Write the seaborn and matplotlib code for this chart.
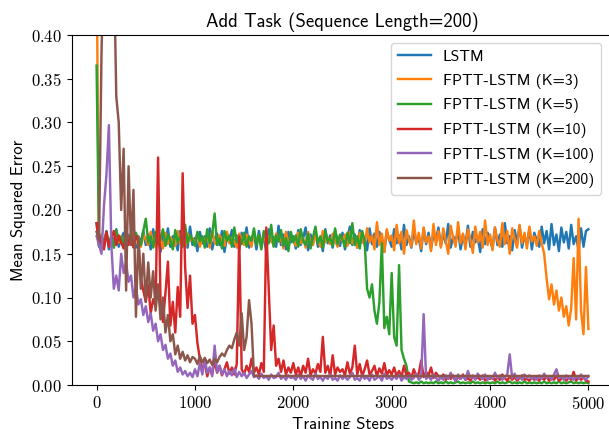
import numpy as np
import pandas as pd
import matplotlib
matplotlib.use("Agg")
import matplotlib.pyplot as plt
import seaborn as sns
from matplotlib.ticker import FuncFormatter, MultipleLocator

# ---------------- data ----------------
steps = np.arange(0, 5001, 25)

labels = ["LSTM", "FPTT-LSTM (K=3)", "FPTT-LSTM (K=5)", "FPTT-LSTM (K=10)",
          "FPTT-LSTM (K=100)", "FPTT-LSTM (K=200)"]

lstm = [
    0.185, 0.158, 0.172, 0.160, 0.176, 0.155, 0.170, 0.163, 0.178, 0.158, 0.168, 0.174, 0.156, 0.171, 0.162, 0.180, 0.157, 0.169, 0.164, 0.176,
    0.160, 0.172, 0.155, 0.178, 0.163, 0.168, 0.152, 0.174, 0.161, 0.179, 0.158, 0.170, 0.165, 0.154, 0.176, 0.162, 0.171, 0.157, 0.181, 0.160,
    0.168, 0.153, 0.175, 0.162, 0.170, 0.158, 0.179, 0.155, 0.167, 0.173, 0.160, 0.176, 0.152, 0.169, 0.163, 0.177, 0.158, 0.171, 0.154, 0.174,
    0.162, 0.180, 0.157, 0.168, 0.173, 0.155, 0.176, 0.161, 0.170, 0.152, 0.178, 0.164, 0.169, 0.158, 0.182, 0.160, 0.172, 0.155, 0.175, 0.163,
    0.170, 0.156, 0.177, 0.160, 0.168, 0.180, 0.154, 0.172, 0.163, 0.175, 0.158, 0.169, 0.153, 0.178, 0.162, 0.171, 0.157, 0.176, 0.165, 0.159,
    0.174, 0.155, 0.168, 0.181, 0.160, 0.172, 0.157, 0.177, 0.163, 0.169, 0.154, 0.179, 0.161, 0.173, 0.158, 0.175, 0.164, 0.152, 0.176, 0.166,
    0.158, 0.178, 0.162, 0.171, 0.155, 0.183, 0.160, 0.170, 0.157, 0.176, 0.163, 0.168, 0.153, 0.179, 0.161, 0.174, 0.156, 0.172, 0.165, 0.180,
    0.159, 0.173, 0.162, 0.184, 0.157, 0.170, 0.164, 0.177, 0.155, 0.171, 0.160, 0.182, 0.158, 0.175, 0.163, 0.169, 0.152, 0.178, 0.161, 0.174,
    0.166, 0.156, 0.180, 0.160, 0.172, 0.158, 0.185, 0.162, 0.170, 0.154, 0.177, 0.163, 0.182, 0.157, 0.171, 0.160, 0.179, 0.155, 0.174, 0.165,
    0.158, 0.181, 0.162, 0.176, 0.155, 0.184, 0.160, 0.172, 0.153, 0.180, 0.163, 0.175, 0.156, 0.183, 0.161, 0.170, 0.154, 0.179, 0.158, 0.176,
    0.178,
]

fptt_k3 = [
    0.480, 0.165, 0.171, 0.158, 0.174, 0.162, 0.168, 0.157, 0.175, 0.163, 0.170, 0.159, 0.173, 0.165, 0.160, 0.176, 0.162, 0.169, 0.158, 0.172,
    0.166, 0.160, 0.175, 0.163, 0.158, 0.171, 0.167, 0.156, 0.174, 0.161, 0.169, 0.164, 0.159, 0.176, 0.162, 0.170, 0.157, 0.173, 0.165, 0.168,
    0.161, 0.174, 0.158, 0.169, 0.165, 0.172, 0.157, 0.176, 0.163, 0.160, 0.171, 0.166, 0.159, 0.175, 0.162, 0.168, 0.164, 0.157, 0.173, 0.167,
    0.160, 0.172, 0.165, 0.158, 0.176, 0.163, 0.169, 0.157, 0.174, 0.161, 0.170, 0.166, 0.159, 0.173, 0.164, 0.168, 0.156, 0.175, 0.162, 0.171,
    0.165, 0.159, 0.174, 0.162, 0.168, 0.157, 0.175, 0.164, 0.160, 0.172, 0.166, 0.158, 0.176, 0.163, 0.169, 0.161, 0.173, 0.165, 0.158, 0.171,
    0.164, 0.172, 0.159, 0.175, 0.162, 0.168, 0.157, 0.174, 0.166, 0.160, 0.179, 0.163, 0.171, 0.155, 0.186, 0.160, 0.173, 0.152, 0.178, 0.165,
    0.171, 0.154, 0.183, 0.162, 0.175, 0.150, 0.177, 0.166, 0.158, 0.188, 0.161, 0.174, 0.156, 0.180, 0.163, 0.170, 0.153, 0.184, 0.160, 0.176,
    0.157, 0.179, 0.165, 0.150, 0.182, 0.168, 0.158, 0.186, 0.162, 0.173, 0.155, 0.178, 0.166, 0.151, 0.181, 0.163, 0.175, 0.157, 0.188, 0.160,
    0.172, 0.154, 0.180, 0.165, 0.158, 0.185, 0.161, 0.176, 0.150, 0.179, 0.167, 0.157, 0.183, 0.162, 0.174, 0.156, 0.181, 0.164, 0.170, 0.159,
    0.176, 0.162, 0.150, 0.122, 0.098, 0.115, 0.092, 0.108, 0.085, 0.100, 0.078, 0.090, 0.068, 0.088, 0.145, 0.075, 0.190, 0.085, 0.058, 0.135,
    0.064,
]

fptt_k5 = [
    0.365, 0.158, 0.168, 0.162, 0.175, 0.160, 0.171, 0.157, 0.177, 0.165, 0.169, 0.161, 0.180, 0.163, 0.172, 0.158, 0.174, 0.166, 0.160, 0.176,
    0.190, 0.163, 0.170, 0.157, 0.175, 0.161, 0.168, 0.178, 0.159, 0.172, 0.165, 0.155, 0.177, 0.163, 0.170, 0.158, 0.183, 0.162, 0.171, 0.166,
    0.159, 0.175, 0.164, 0.170, 0.157, 0.178, 0.162, 0.172, 0.196, 0.160, 0.168, 0.156, 0.176, 0.165, 0.171, 0.158, 0.180, 0.163, 0.169, 0.161,
    0.174, 0.158, 0.170, 0.165, 0.179, 0.160, 0.172, 0.155, 0.176, 0.166, 0.162, 0.183, 0.158, 0.171, 0.164, 0.177, 0.159, 0.168, 0.153, 0.175,
    0.163, 0.171, 0.158, 0.178, 0.165, 0.160, 0.173, 0.156, 0.169, 0.181, 0.162, 0.170, 0.157, 0.176, 0.164, 0.168, 0.159, 0.179, 0.161, 0.172,
    0.166, 0.158, 0.174, 0.162, 0.185, 0.160, 0.170, 0.156, 0.176, 0.165, 0.110, 0.100, 0.115, 0.085, 0.070, 0.095, 0.162, 0.065, 0.078, 0.058,
    0.128, 0.055, 0.045, 0.137, 0.040, 0.030, 0.022, 0.004, 0.003, 0.002, 0.003, 0.002, 0.004, 0.002, 0.003, 0.002, 0.003, 0.002, 0.004, 0.002,
    0.003, 0.002, 0.004, 0.002, 0.003, 0.002, 0.003, 0.004, 0.002, 0.003, 0.002, 0.003, 0.002, 0.004, 0.002, 0.003, 0.002, 0.003, 0.002, 0.003,
    0.002, 0.003, 0.002, 0.004, 0.002, 0.003, 0.002, 0.003, 0.004, 0.002, 0.003, 0.002, 0.003, 0.002, 0.004, 0.002, 0.003, 0.002, 0.003, 0.002,
    0.003, 0.002, 0.004, 0.002, 0.003, 0.002, 0.003, 0.002, 0.004, 0.002, 0.003, 0.002, 0.003, 0.004, 0.002, 0.003, 0.002, 0.003, 0.002, 0.003,
    0.002,
]

fptt_k10 = [
    0.185, 0.160, 0.170, 0.155, 0.175, 0.158, 0.168, 0.176, 0.160, 0.171, 0.163, 0.156, 0.168, 0.160, 0.174, 0.157, 0.170, 0.165, 0.122, 0.108,
    0.095, 0.115, 0.082, 0.098, 0.090, 0.260, 0.095, 0.072, 0.105, 0.141, 0.068, 0.095, 0.060, 0.112, 0.078, 0.242, 0.135, 0.088, 0.125, 0.070,
    0.080, 0.048, 0.030, 0.018, 0.025, 0.010, 0.020, 0.012, 0.028, 0.014, 0.022, 0.011, 0.018, 0.026, 0.013, 0.020, 0.012, 0.024, 0.170, 0.018,
    0.012, 0.022, 0.015, 0.030, 0.014, 0.020, 0.012, 0.025, 0.015, 0.180, 0.110, 0.040, 0.068, 0.022, 0.030, 0.015, 0.028, 0.012, 0.020, 0.014,
    0.025, 0.012, 0.020, 0.010, 0.022, 0.014, 0.030, 0.011, 0.018, 0.013, 0.024, 0.015, 0.055, 0.014, 0.022, 0.010, 0.034, 0.012, 0.020, 0.015,
    0.018, 0.011, 0.026, 0.013, 0.020, 0.045, 0.012, 0.024, 0.010, 0.018, 0.028, 0.012, 0.016, 0.022, 0.010, 0.019, 0.013, 0.025, 0.011, 0.017,
    0.012, 0.020, 0.010, 0.016, 0.009, 0.022, 0.011, 0.014, 0.008, 0.018, 0.010, 0.013, 0.028, 0.009, 0.015, 0.011, 0.020, 0.008, 0.014, 0.010,
    0.008, 0.012, 0.006, 0.010, 0.007, 0.011, 0.005, 0.009, 0.007, 0.012, 0.006, 0.008, 0.005, 0.010, 0.007, 0.009, 0.006, 0.011, 0.005, 0.008,
    0.007, 0.010, 0.005, 0.009, 0.006, 0.012, 0.008, 0.005, 0.010, 0.006, 0.009, 0.005, 0.008, 0.011, 0.006, 0.007, 0.005, 0.009, 0.006, 0.008,
    0.005, 0.009, 0.006, 0.010, 0.005, 0.008, 0.006, 0.011, 0.005, 0.007, 0.009, 0.005, 0.008, 0.006, 0.015, 0.005, 0.008, 0.006, 0.009, 0.005,
    0.004,
]

fptt_k100 = [
    0.170, 0.160, 0.150, 0.205, 0.240, 0.297, 0.160, 0.110, 0.125, 0.108, 0.150, 0.128, 0.140, 0.118, 0.125, 0.100, 0.112, 0.092, 0.098, 0.080,
    0.090, 0.072, 0.082, 0.062, 0.070, 0.050, 0.058, 0.040, 0.046, 0.030, 0.036, 0.022, 0.028, 0.015, 0.020, 0.012, 0.016, 0.010, 0.014, 0.009,
    0.018, 0.010, 0.025, 0.012, 0.030, 0.014, 0.020, 0.010, 0.045, 0.015, 0.022, 0.012, 0.018, 0.010, 0.016, 0.011, 0.019, 0.009, 0.015, 0.010,
    0.014, 0.008, 0.012, 0.016, 0.009, 0.011, 0.007, 0.013, 0.008, 0.010, 0.006, 0.012, 0.008, 0.009, 0.014, 0.007, 0.010, 0.006, 0.011, 0.008,
    0.009, 0.006, 0.012, 0.007, 0.010, 0.005, 0.011, 0.008, 0.006, 0.013, 0.007, 0.009, 0.005, 0.010, 0.007, 0.012, 0.006, 0.008, 0.005, 0.011,
    0.007, 0.010, 0.006, 0.009, 0.014, 0.006, 0.008, 0.005, 0.011, 0.007, 0.009, 0.005, 0.012, 0.006, 0.008, 0.010, 0.005, 0.013, 0.007, 0.009,
    0.006, 0.010, 0.007, 0.012, 0.005, 0.009, 0.007, 0.011, 0.006, 0.008, 0.013, 0.006, 0.009, 0.081, 0.007, 0.010, 0.006, 0.012, 0.008, 0.005,
    0.009, 0.006, 0.011, 0.007, 0.014, 0.008, 0.005, 0.012, 0.007, 0.010, 0.006, 0.016, 0.008, 0.011, 0.006, 0.013, 0.009, 0.007, 0.012, 0.006,
    0.010, 0.007, 0.014, 0.008, 0.011, 0.006, 0.009, 0.012, 0.035, 0.008, 0.013, 0.007, 0.010, 0.006, 0.012, 0.008, 0.011, 0.007, 0.009, 0.006,
    0.011, 0.007, 0.013, 0.008, 0.010, 0.006, 0.012, 0.018, 0.008, 0.010, 0.006, 0.011, 0.007, 0.009, 0.006, 0.010, 0.007, 0.012, 0.008, 0.006,
    0.010,
]

# K=200 run is recorded up to step 1600, then stays flat until step 5000
fptt_k200 = [
    0.175, 0.165, 0.380, 0.500, 0.460, 0.520, 0.440, 0.490, 0.330, 0.300, 0.200, 0.270, 0.108, 0.250, 0.160, 0.223, 0.078, 0.170, 0.110, 0.150,
    0.095, 0.140, 0.100, 0.130, 0.085, 0.115, 0.075, 0.100, 0.060, 0.080, 0.050, 0.058, 0.035, 0.045, 0.030, 0.038, 0.028, 0.034, 0.026, 0.032,
    0.030, 0.024, 0.033, 0.026, 0.031, 0.025, 0.029, 0.023, 0.030, 0.026, 0.032, 0.036, 0.033, 0.040, 0.045, 0.042, 0.052, 0.060, 0.045, 0.082,
    0.040, 0.055, 0.097, 0.070, 0.0103,
    0.0103,
]
fptt_k200_steps = np.append(steps[:64 + 1], 5000)

series_values = [lstm, fptt_k3, fptt_k5, fptt_k10, fptt_k100, fptt_k200]
series_steps = [steps, steps, steps, steps, steps, fptt_k200_steps]

# ---------------- style ----------------
plt.rcParams["font.family"] = ["cmss10", "DejaVu Sans"]
plt.rcParams["mathtext.fontset"] = "cm"
plt.rcParams["axes.formatter.use_mathtext"] = True
plt.rcParams["axes.unicode_minus"] = False

colors = sns.color_palette("tab10", 6)

fig = plt.figure(figsize=(6.09, 4.29), dpi=100)
ax = fig.add_axes([72 / 609, 1 - 385 / 429, (613 - 72) / 609, (385 - 35) / 429])

for lab, xs, ys, c in zip(labels, series_steps, series_values, colors):
    sns.lineplot(x=np.asarray(xs), y=np.asarray(ys), color=c, label=lab,
                 linewidth=1.75, estimator=None, sort=False, ax=ax)

ax.set_xlim(-250, 5250)
ax.set_ylim(0, 0.40)
ax.yaxis.set_major_locator(MultipleLocator(0.05))
ax.xaxis.set_major_locator(MultipleLocator(1000))
ax.yaxis.set_major_formatter(FuncFormatter(lambda v, p: f"${v:.2f}$"))
ax.xaxis.set_major_formatter(FuncFormatter(lambda v, p: f"${v:.0f}$"))
ax.tick_params(labelsize=12)

ax.set_title("Add Task (Sequence Length=200)", fontsize=13.5)
ax.set_xlabel("Training Steps", fontsize=12)
ax.set_ylabel("Mean Squared Error", fontsize=12)

leg = ax.legend(loc="upper right", bbox_to_anchor=(1.0 - 4 / 541, 1.0),
                fontsize=11.3, labelspacing=0.62,
                handlelength=2.1, handletextpad=0.75, borderpad=0.45)
for h in leg.get_lines():
    h.set_linewidth(1.75)

fig.savefig("out.png", dpi=100)
